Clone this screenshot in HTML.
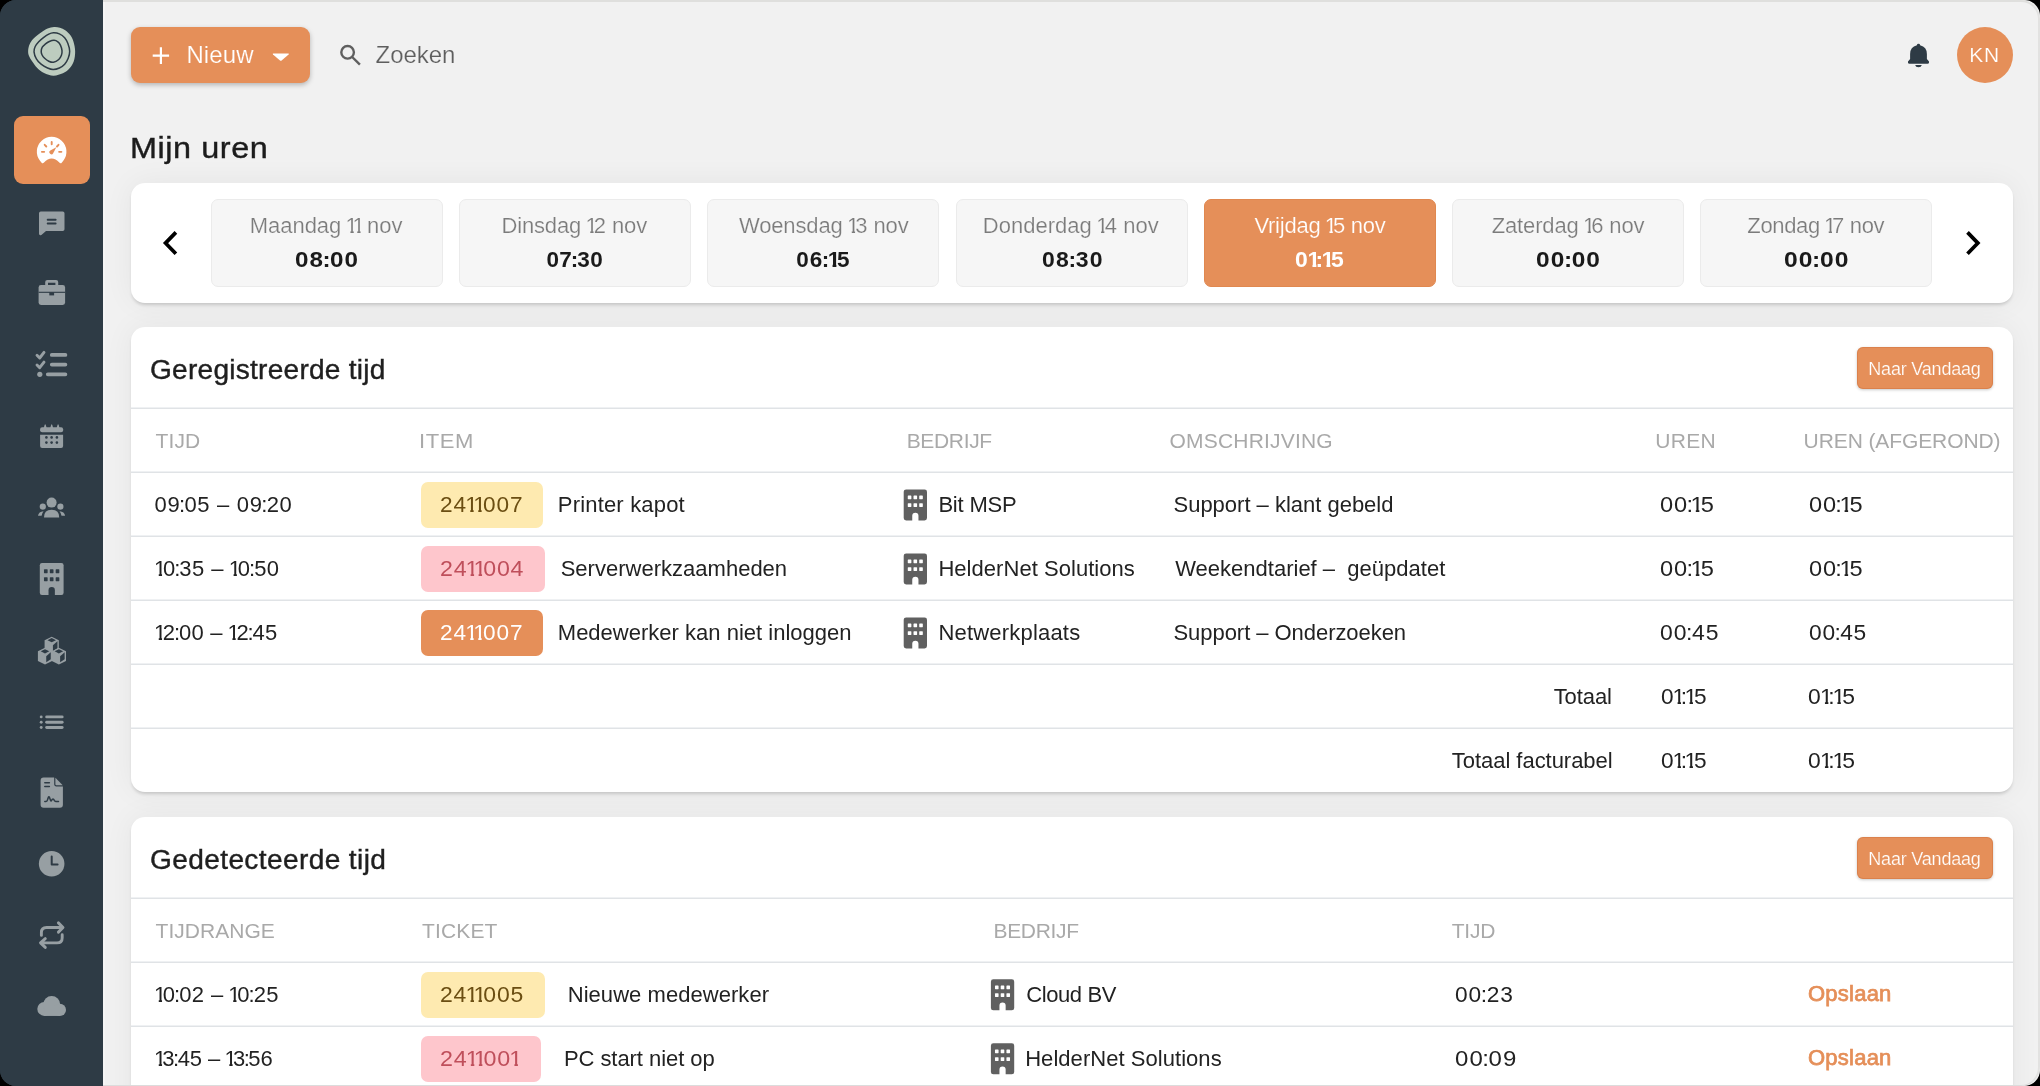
<!DOCTYPE html>
<html lang="nl">
<head>
<meta charset="utf-8">
<title>Mijn uren</title>
<style>
*{box-sizing:border-box;margin:0;padding:0}
html,body{width:2040px;height:1086px;background:#000}
body{font-family:"Liberation Sans",sans-serif;position:relative}
#win{position:absolute;left:0;top:0;width:2040px;height:1086px;border-radius:16px;overflow:hidden;background:linear-gradient(90deg,#2e3b45 0 103px,#f1f1f1 103px)}
#frame{position:absolute;left:103px;top:0;right:0;bottom:0;border-top:2px solid #dfdfdd;border-right:2px solid #e2e2e1;border-bottom:1px solid #dcdcdc;border-top-right-radius:19px;border-bottom-right-radius:19px;pointer-events:none}
#side{position:absolute;left:0;top:0;width:103px;height:1086px;background:#2e3b45}
#side .act{position:absolute;left:14px;top:116px;width:76px;height:68px;border-radius:9px;background:#e58f59}
.t{position:absolute;white-space:pre;font-family:"Liberation Sans",sans-serif;transform-origin:0 50%}
.t i{font-style:normal}
.o{display:inline-block;line-height:1em;margin:0 -3.7px 0 -1.7px;clip-path:polygon(0 0,100% 0,100% .7em,.37em .7em,.37em 100%,.22em 100%,.22em .7em,0 .7em)}
.b .o{margin:0 -4.2px 0 -1.2px;clip-path:polygon(0 0,100% 0,100% .66em,.385em .66em,.385em 100%,.215em 100%,.215em .66em,0 .66em)}
.k{margin:0 -1.4px 0 -1.4px}
.m{-webkit-text-stroke:0.4px currentColor}
.b{font-weight:700}
.sb{-webkit-text-stroke:0.75px currentColor}

.card{position:absolute;left:131px;width:1882px;background:#fff;border-radius:14px;box-shadow:0 2.5px 3.5px -1px rgba(0,0,0,.16),0 0 30px rgba(0,0,0,.055)}
.sep{position:absolute;left:0;right:0;height:2px;background:linear-gradient(#eff1f3 0 50%,#e0e3e6 50% 100%)}
.day{position:absolute;top:199px;width:232px;height:88px;border-radius:7px;background:#f6f6f6;border:1.5px solid #ebebeb}
.day.on{background:#e58f59;border-color:#e08850}
.btn{position:absolute;background:#e58f59;border-radius:6px;box-shadow:0 1px 3px rgba(0,0,0,.22),inset 0 0 0 1px rgba(195,100,45,.3)}
.badge{position:absolute;height:46px;border-radius:7px}
.by{background:#feeab0}.bp{background:#fec6cc}.bo{background:#e58f59}
svg{position:absolute;overflow:visible}
#txt{position:absolute;left:0;top:0;width:2040px;height:1086px;will-change:transform}
</style>
</head>
<body>
<div id="win">
<nav id="side"><div class="act"></div></nav>
<div style="position:absolute;left:103px;top:2px;width:2px;height:1084px;background:linear-gradient(90deg,rgba(255,255,255,.15),rgba(255,255,255,.4))"></div>
<header>
<div class="btn" style="left:131px;top:27px;width:179px;height:56px;border-radius:9px;box-shadow:0 2px 5px rgba(0,0,0,.25)"></div>
<div style="position:absolute;left:1956.6px;top:27.4px;width:56px;height:56px;border-radius:50%;background:#e58f59"></div>
</header>
<section class="card" style="top:183px;height:120px"></section>
<div class="day" style="left:211px"></div>
<div class="day" style="left:459px"></div>
<div class="day" style="left:707px"></div>
<div class="day" style="left:956px"></div>
<div class="day on" style="left:1204px"></div>
<div class="day" style="left:1452px"></div>
<div class="day" style="left:1700px"></div>
<section class="card" style="top:327px;height:465px">
<div class="sep" style="top:80px"></div><div class="sep" style="top:144px"></div><div class="sep" style="top:208px"></div><div class="sep" style="top:272px"></div><div class="sep" style="top:336px"></div><div class="sep" style="top:400px"></div>
</section>
<section class="card" style="top:817px;height:400px">
<div class="sep" style="top:80px"></div><div class="sep" style="top:144px"></div><div class="sep" style="top:208px"></div>
</section>
<div class="btn" style="left:1857px;top:347px;width:136px;height:42px"></div>
<div class="btn" style="left:1857px;top:837px;width:136px;height:42px"></div>
<div class="badge by" style="left:421px;top:482px;width:122px"></div>
<div class="badge bp" style="left:421px;top:546px;width:124px"></div>
<div class="badge bo" style="left:421px;top:610px;width:122px"></div>
<div class="badge by" style="left:421px;top:972px;width:124px"></div>
<div class="badge bp" style="left:421px;top:1036px;width:120px"></div>
<svg width="2040" height="1086" viewBox="0 0 2040 1086" style="left:0;top:0" fill="none">
<g id="logo"><path d="M54.05 26.95C56.12 26.81 58.08 27.13 59.95 27.66C61.81 28.19 63.53 28.91 65.25 30.14C66.97 31.36 68.88 33.08 70.26 35.03C71.63 36.97 72.68 39.10 73.50 41.80C74.31 44.50 75.10 47.99 75.15 51.23C75.20 54.47 74.76 58.35 73.79 61.25C72.83 64.15 71.19 66.60 69.37 68.62C67.56 70.63 65.54 72.15 62.89 73.33C60.24 74.51 56.61 75.74 53.46 75.69C50.32 75.64 46.74 74.31 44.04 73.03C41.33 71.76 39.22 69.94 37.26 68.03C35.29 66.11 33.62 63.56 32.25 61.54C30.87 59.53 29.70 57.66 29.01 55.95C28.32 54.23 28.10 53.00 28.12 51.23C28.15 49.46 28.55 47.16 29.19 45.34C29.82 43.52 30.81 41.85 31.96 40.33C33.10 38.81 34.51 37.56 36.08 36.21C37.65 34.85 39.47 33.47 41.38 32.20C43.30 30.92 45.46 29.42 47.57 28.54C49.68 27.67 51.99 27.10 54.05 26.95Z" fill="#bdccbf"/>
<path d="M53.46 32.85C55.23 32.80 57.49 33.04 59.36 33.85C61.22 34.65 63.24 36.06 64.66 37.68C66.08 39.30 67.07 41.31 67.90 43.57C68.74 45.83 69.62 48.78 69.67 51.23C69.72 53.69 69.03 56.14 68.20 58.30C67.36 60.46 66.13 62.58 64.66 64.20C63.19 65.82 61.27 67.14 59.36 68.03C57.44 68.91 55.13 69.50 53.17 69.50C51.20 69.50 49.58 68.91 47.57 68.03C45.56 67.14 42.96 65.72 41.09 64.20C39.22 62.67 37.55 60.95 36.37 58.89C35.20 56.83 34.21 53.88 34.02 51.82C33.82 49.76 34.41 48.19 35.20 46.52C35.98 44.85 37.36 43.28 38.73 41.80C40.11 40.33 41.78 38.96 43.45 37.68C45.12 36.40 47.08 34.95 48.75 34.14C50.42 33.34 51.70 32.90 53.46 32.85Z" stroke="#2e3b45" stroke-width="1.5"/>
<path d="M54.05 40.33C55.48 40.38 56.80 40.97 57.88 41.80C58.96 42.64 59.85 43.87 60.54 45.34C61.22 46.81 61.86 48.97 62.01 50.64C62.16 52.31 61.96 53.88 61.42 55.36C60.88 56.83 60.09 58.32 58.77 59.48C57.44 60.64 55.13 62.02 53.46 62.31C51.79 62.60 50.22 61.92 48.75 61.25C47.28 60.58 45.75 59.38 44.62 58.30C43.50 57.22 42.54 55.95 41.97 54.77C41.40 53.59 41.16 52.51 41.21 51.23C41.26 49.95 41.60 48.29 42.27 47.11C42.94 45.93 44.04 45.09 45.21 44.16C46.39 43.23 47.87 42.15 49.34 41.51C50.81 40.87 52.63 40.28 54.05 40.33Z" stroke="#2e3b45" stroke-width="1.5"/></g>
<g id="gauge"><path d="M39.82 160.51A14.8 14.8 0 1 1 63.46 160.51L61.9 162.4Q60.7 164 59.3 162.6Q55.6 158.5 51.64 158.5Q47.7 158.5 44 162.6Q42.6 164 41.4 162.4Z" fill="#fff"/>
<g stroke="#e58f59" stroke-width="1.9" stroke-linecap="round"><path d="M41.9 151.85H44.2M59.1 151.85H61.4M51.7 142V144.2M44.7 144.8L46.3 146.5M58.5 144.8L57 146.5"/></g>
<path d="M56.3 147.3L53.2 153.2A2 2 0 1 1 50.3 150.6Z" fill="#e58f59"/></g>
<g id="chat" fill="#979fa3"><path d="M40.8 211.5H62.7Q64.5 211.5 64.5 213.3V229.3Q64.5 231.1 62.7 231.1H46L41.4 235Q39 236 39 233.6V213.3Q39 211.5 40.8 211.5Z"/><path d="M47.7 219.7H55.6M47.7 223.4H55.6" stroke="#2e3b45" stroke-width="2" stroke-linecap="round"/></g>
<g id="brief" fill="#979fa3"><path d="M47.4 279.9H56Q58.2 279.9 58.2 282.1V285.6H55.4V282.8H48V285.6H45.2V282.1Q45.2 279.9 47.4 279.9Z"/><rect x="38.6" y="285" width="26.5" height="19.9" rx="2.4"/><path d="M38.6 292.3H65.1" stroke="#2e3b45" stroke-width="1.1"/><rect x="49.3" y="292.3" width="4.8" height="3.1" fill="#2e3b45"/></g>
<g id="tasks" stroke="#979fa3" stroke-linecap="round" stroke-linejoin="round" fill="none"><path d="M37 355.3L39.7 358L44 352.4M37 365L39.7 367.7L44 362.1" stroke-width="2.9"/><path d="M51.8 354.9H65.4M51.8 364.6H65.4M47.8 374.3H65.4" stroke-width="3.8"/><circle cx="39.8" cy="374.3" r="2.6" fill="#979fa3" stroke="none"/></g>
<g id="cal" fill="#979fa3"><rect x="40.1" y="427.2" width="23" height="5" rx="2"/><path d="M43.6 428.5L44.6 424.9Q45.2 423.7 45.8 424.9L46.8 428.5ZM50.1 428.5L51.1 424.9Q51.7 423.7 52.3 424.9L53.3 428.5ZM56.5 428.5L57.5 424.9Q58.1 423.7 58.7 424.9L59.7 428.5Z"/><path d="M40.1 434.7H63.1V445.9Q63.1 447.9 61.1 447.9H42.1Q40.1 447.9 40.1 445.9Z"/><g fill="#2e3b45"><circle cx="46.4" cy="437.4" r="1.3"/><circle cx="51.6" cy="437.4" r="1.3"/><circle cx="56.9" cy="437.4" r="1.3"/><circle cx="46.4" cy="442.6" r="1.3"/><circle cx="51.6" cy="442.6" r="1.3"/><circle cx="56.9" cy="442.6" r="1.3"/></g></g>
<g id="users" fill="#979fa3"><circle cx="51.6" cy="502.6" r="5"/><path d="M44 517.6Q43.7 510 51.6 509.8Q59.5 510 59.2 517.6Z"/><circle cx="42.8" cy="506.7" r="3.1"/><circle cx="60.4" cy="506.7" r="3.1"/><path d="M38 515.8Q38.6 511.6 43.6 511.2Q41.8 513.2 41.6 515.8ZM65.1 515.8Q64.5 511.6 59.5 511.2Q61.3 513.2 61.5 515.8Z"/></g>
<g transform="translate(39.8 563.1) scale(0.9917 0.9938)"><rect x="0" y="0" width="24" height="32" rx="2.22" fill="#979fa3"/><g fill="#2e3b45"><rect x="4.2" y="6.3" width="3.7" height="3.9" rx="0.5"/><rect x="10.1" y="6.3" width="3.7" height="3.9" rx="0.5"/><rect x="16" y="6.3" width="3.7" height="3.9" rx="0.5"/><rect x="4.2" y="14.3" width="3.7" height="3.9" rx="0.5"/><rect x="10.1" y="14.3" width="3.7" height="3.9" rx="0.5"/><rect x="16" y="14.3" width="3.7" height="3.9" rx="0.5"/><path d="M8.8 33V27.2Q8.8 24 12 24Q15.2 24 15.2 27.2V33Z"/></g></g>
<g id="cubes"><path d="M51.7 636.7L58.800000000000004 640.2V649.8000000000001L51.7 653.3000000000001L44.6 649.8000000000001V640.2Z" fill="#979fa3"/><path d="M51.7 638.12L55.97 640.2L51.7 642.28L47.44 640.2Z" fill="#2e3b45"/><path d="M52.92 645.25L57.45 641.21V648.18L52.92 651.21Z" fill="#2e3b45"/><path d="M45.0 647.8L52.1 651.3V660.9L45.0 664.4L37.9 660.9V651.3Z" fill="#979fa3"/><path d="M45.0 649.22L49.27 651.3L45.0 653.38L40.73 651.3Z" fill="#2e3b45"/><path d="M46.22 656.35L50.75 652.31V659.28L46.22 662.31Z" fill="#2e3b45"/><path d="M58.9 647.8L66.0 651.3V660.9L58.9 664.4L51.8 660.9V651.3Z" fill="#979fa3"/><path d="M58.9 649.22L63.16 651.3L58.9 653.38L54.63 651.3Z" fill="#2e3b45"/><path d="M60.12 656.35L64.65 652.31V659.28L60.12 662.31Z" fill="#2e3b45"/></g>
<g id="list" fill="#979fa3">
<circle cx="41.2" cy="716.9" r="1.45"/><rect x="45.2" y="715.4499999999999" width="18.4" height="2.9" rx="1.45"/>
<circle cx="41.2" cy="722.2" r="1.45"/><rect x="45.2" y="720.75" width="18.4" height="2.9" rx="1.45"/>
<circle cx="41.2" cy="727.5" r="1.45"/><rect x="45.2" y="726.05" width="18.4" height="2.9" rx="1.45"/>
</g>
<g id="file"><path d="M43.6 777.5H54.2V784.6Q54.2 786.4 56 786.4H62.9V804.8Q62.9 807.8 59.9 807.8H43.6Q40.6 807.8 40.6 804.8V780.5Q40.6 777.5 43.6 777.5Z" fill="#979fa3"/><path d="M55.4 777.7L62.7 785.2H56.4Q55.4 785.2 55.4 784.2Z" fill="#979fa3"/><path d="M44.8 782.7H49.4M44.8 786.4H49.4" stroke="#2e3b45" stroke-width="1.5" stroke-linecap="round"/><path d="M44.8 801.4H46Q47.2 801.4 47.6 799.6L48.3 797.4Q48.9 796 49.5 797.4L50.6 800.4Q51 801.4 51.6 800.4Q52.3 799 53 799Q53.7 799 54.3 800.4Q54.8 801.4 55.8 801.4H58.5" stroke="#2e3b45" stroke-width="1.5" stroke-linecap="round" stroke-linejoin="round" fill="none"/></g>
<g id="clock"><circle cx="51.65" cy="863.75" r="12.8" fill="#979fa3"/><path d="M51.7 856.5V864.6H57.6" stroke="#2e3b45" stroke-width="2" stroke-linecap="round" stroke-linejoin="round" fill="none"/></g>
<g id="repeat" stroke="#979fa3" stroke-width="2.9" stroke-linecap="round" stroke-linejoin="round" fill="none"><path d="M41.4 935.4V932.6Q41.4 927.5 46.5 927.5H62.2M58.4 922.9L63 927.5L58.4 932.1"/><path d="M62.2 934.8V937.7Q62.2 942.9 57 942.9H41.4M45.3 938.6L40.5 942.9L45.3 947.4"/></g>
<g id="cloud" fill="#979fa3"><circle cx="44.3" cy="1008.9" r="7"/><circle cx="51.7" cy="1004.6" r="8.5"/><circle cx="59.9" cy="1009.9" r="6.1"/><rect x="44.3" y="1006" width="15.6" height="9.95"/></g>
<path d="M152.7 55.6H169.1M160.9 47.3V63.9" stroke="#fff" stroke-width="2.2" stroke-linecap="butt"/>
<path d="M273.3 53.6H288.3Q289.3 53.7 288.6 54.5L281.6 60.4Q280.8 60.9 280 60.4L273 54.5Q272.3 53.7 273.3 53.6Z" fill="#fff"/>
<g stroke="#5f5f5f" stroke-width="2.4" fill="none"><circle cx="347.6" cy="52.3" r="6.3"/><path d="M352.2 57L359.9 64.7" stroke-linecap="butt"/></g>
<g fill="#2e3b45"><path d="M1916.9 45.2Q1917 43.8 1918.5 43.8Q1920 43.8 1920.1 45.2Q1926.9 46.9 1926.9 54V59L1929 61.4Q1929.6 63.7 1927.6 63.8H1909.4Q1907.4 63.7 1908 61.4L1910.1 59V54Q1910.1 46.9 1916.9 45.2Z"/><path d="M1915.2 64.9H1921.8Q1921.4 67.2 1918.5 67.2Q1915.6 67.2 1915.2 64.9Z"/></g>
<path d="M175.9 232.4L165.5 243.1L175.9 253.8" stroke="#000" stroke-width="3.7" fill="none" stroke-linecap="butt" stroke-linejoin="miter"/>
<path d="M1967.5 232.4L1977.9 243.1L1967.5 253.8" stroke="#000" stroke-width="3.7" fill="none" stroke-linecap="butt" stroke-linejoin="miter"/>
<g transform="translate(903.7 489.4) scale(0.9708 0.9688)"><rect x="0" y="0" width="24" height="32" rx="2.47" fill="#606060"/><g fill="#ffffff"><rect x="4.2" y="6.3" width="3.7" height="3.9" rx="0.5"/><rect x="10.1" y="6.3" width="3.7" height="3.9" rx="0.5"/><rect x="16" y="6.3" width="3.7" height="3.9" rx="0.5"/><rect x="4.2" y="14.3" width="3.7" height="3.9" rx="0.5"/><rect x="10.1" y="14.3" width="3.7" height="3.9" rx="0.5"/><rect x="16" y="14.3" width="3.7" height="3.9" rx="0.5"/><path d="M8.8 33V27.2Q8.8 24 12 24Q15.2 24 15.2 27.2V33Z"/></g></g>
<g transform="translate(903.7 553.4) scale(0.9708 0.9688)"><rect x="0" y="0" width="24" height="32" rx="2.47" fill="#606060"/><g fill="#ffffff"><rect x="4.2" y="6.3" width="3.7" height="3.9" rx="0.5"/><rect x="10.1" y="6.3" width="3.7" height="3.9" rx="0.5"/><rect x="16" y="6.3" width="3.7" height="3.9" rx="0.5"/><rect x="4.2" y="14.3" width="3.7" height="3.9" rx="0.5"/><rect x="10.1" y="14.3" width="3.7" height="3.9" rx="0.5"/><rect x="16" y="14.3" width="3.7" height="3.9" rx="0.5"/><path d="M8.8 33V27.2Q8.8 24 12 24Q15.2 24 15.2 27.2V33Z"/></g></g>
<g transform="translate(903.7 617.4) scale(0.9708 0.9688)"><rect x="0" y="0" width="24" height="32" rx="2.47" fill="#606060"/><g fill="#ffffff"><rect x="4.2" y="6.3" width="3.7" height="3.9" rx="0.5"/><rect x="10.1" y="6.3" width="3.7" height="3.9" rx="0.5"/><rect x="16" y="6.3" width="3.7" height="3.9" rx="0.5"/><rect x="4.2" y="14.3" width="3.7" height="3.9" rx="0.5"/><rect x="10.1" y="14.3" width="3.7" height="3.9" rx="0.5"/><rect x="16" y="14.3" width="3.7" height="3.9" rx="0.5"/><path d="M8.8 33V27.2Q8.8 24 12 24Q15.2 24 15.2 27.2V33Z"/></g></g>
<g transform="translate(990.9 979.3) scale(0.9708 0.9688)"><rect x="0" y="0" width="24" height="32" rx="2.47" fill="#606060"/><g fill="#ffffff"><rect x="4.2" y="6.3" width="3.7" height="3.9" rx="0.5"/><rect x="10.1" y="6.3" width="3.7" height="3.9" rx="0.5"/><rect x="16" y="6.3" width="3.7" height="3.9" rx="0.5"/><rect x="4.2" y="14.3" width="3.7" height="3.9" rx="0.5"/><rect x="10.1" y="14.3" width="3.7" height="3.9" rx="0.5"/><rect x="16" y="14.3" width="3.7" height="3.9" rx="0.5"/><path d="M8.8 33V27.2Q8.8 24 12 24Q15.2 24 15.2 27.2V33Z"/></g></g>
<g transform="translate(990.9 1043.3) scale(0.9708 0.9688)"><rect x="0" y="0" width="24" height="32" rx="2.47" fill="#606060"/><g fill="#ffffff"><rect x="4.2" y="6.3" width="3.7" height="3.9" rx="0.5"/><rect x="10.1" y="6.3" width="3.7" height="3.9" rx="0.5"/><rect x="16" y="6.3" width="3.7" height="3.9" rx="0.5"/><rect x="4.2" y="14.3" width="3.7" height="3.9" rx="0.5"/><rect x="10.1" y="14.3" width="3.7" height="3.9" rx="0.5"/><rect x="16" y="14.3" width="3.7" height="3.9" rx="0.5"/><path d="M8.8 33V27.2Q8.8 24 12 24Q15.2 24 15.2 27.2V33Z"/></g></g>
</svg>
<div id="txt">
<div class="t" style="left:186.40px;top:39.10px;font-size:24px;line-height:32px;-webkit-text-stroke:0.2px #e58f59;color:#ffffff;letter-spacing:0.100px">Nieuw</div>
<div class="t" style="left:375.60px;top:38.90px;font-size:24px;line-height:32px;-webkit-text-stroke:0.2px #f1f1f1;color:#5e5e5e;letter-spacing:-0.080px">Zoeken</div>
<div class="t" style="left:1969.30px;top:40.40px;font-size:21px;line-height:29px;-webkit-text-stroke:0.2px #e58f59;color:#ffffff;letter-spacing:0.800px">KN</div>
<div class="t m" style="left:129.70px;top:128.80px;font-size:30px;line-height:38px;transform:scaleX(1.08);color:#1c1c1c;letter-spacing:0.532px">Mijn uren</div>
<div class="t" style="left:249.80px;top:211.10px;font-size:22px;line-height:30px;-webkit-text-stroke:0.2px #f6f6f6;color:#7b7b7b;letter-spacing:-0.046px">Maandag <i class="o">1</i><i class="o">1</i> nov</div>
<div class="t b" style="left:295.20px;top:245.20px;font-size:22.5px;line-height:30.5px;transform:scaleX(1.077);color:#1a1a1a;letter-spacing:0.954px">08<i class="k">:</i>00</div>
<div class="t" style="left:501.40px;top:211.10px;font-size:22px;line-height:30px;-webkit-text-stroke:0.2px #f6f6f6;color:#7b7b7b;letter-spacing:-0.138px">Dinsdag <i class="o">1</i>2 nov</div>
<div class="t b" style="left:546.40px;top:245.20px;font-size:22.5px;line-height:30.5px;color:#1a1a1a;letter-spacing:0.400px">07<i class="k">:</i>30</div>
<div class="t" style="left:738.90px;top:211.10px;font-size:22px;line-height:30px;-webkit-text-stroke:0.2px #f6f6f6;color:#7b7b7b;letter-spacing:-0.129px">Woensdag <i class="o">1</i>3 nov</div>
<div class="t b" style="left:796.30px;top:245.20px;font-size:22.5px;line-height:30.5px;color:#1a1a1a;letter-spacing:0.950px">06<i class="k">:</i><i class="o">1</i>5</div>
<div class="t" style="left:982.80px;top:211.10px;font-size:22px;line-height:30px;-webkit-text-stroke:0.2px #f6f6f6;color:#7b7b7b;letter-spacing:0.013px">Donderdag <i class="o">1</i>4 nov</div>
<div class="t b" style="left:1041.50px;top:245.20px;font-size:22.5px;line-height:30.5px;transform:scaleX(1.021);color:#1a1a1a;letter-spacing:1.098px">08<i class="k">:</i>30</div>
<div class="t" style="left:1254.40px;top:211.10px;font-size:22px;line-height:30px;-webkit-text-stroke:0.2px #e58f59;color:#ffffff;letter-spacing:-0.231px">Vrijdag <i class="o">1</i>5 nov</div>
<div class="t b" style="left:1295.40px;top:245.20px;font-size:22.5px;line-height:30.5px;transform:scaleX(1.02);color:#ffffff;letter-spacing:0.951px">0<i class="o">1</i><i class="k">:</i><i class="o">1</i>5</div>
<div class="t" style="left:1491.70px;top:211.10px;font-size:22px;line-height:30px;-webkit-text-stroke:0.2px #f6f6f6;color:#7b7b7b;letter-spacing:-0.143px">Zaterdag <i class="o">1</i>6 nov</div>
<div class="t b" style="left:1535.90px;top:245.20px;font-size:22.5px;line-height:30.5px;transform:scaleX(1.088);color:#1a1a1a;letter-spacing:1.000px">00<i class="k">:</i>00</div>
<div class="t" style="left:1747.30px;top:211.10px;font-size:22px;line-height:30px;-webkit-text-stroke:0.2px #f6f6f6;color:#7b7b7b;letter-spacing:-0.350px">Zondag <i class="o">1</i>7 nov</div>
<div class="t b" style="left:1784.00px;top:245.20px;font-size:22.5px;line-height:30.5px;transform:scaleX(1.096);color:#1a1a1a;letter-spacing:1.000px">00<i class="k">:</i>00</div>
<div class="t m" style="left:150.40px;top:353.00px;font-size:27px;line-height:35px;transform:scaleX(1.04);color:#1f1f1f;letter-spacing:0.235px">Geregistreerde tijd</div>
<div class="t" style="left:1868.30px;top:356.40px;font-size:18px;line-height:26px;-webkit-text-stroke:0.2px #e58f59;color:#ffffff;letter-spacing:-0.200px">Naar Vandaag</div>
<div class="t" style="left:155.60px;top:426.00px;font-size:21px;line-height:29px;color:#a9a9a9;letter-spacing:0.067px">TIJD</div>
<div class="t" style="left:419.30px;top:426.00px;font-size:21px;line-height:29px;transform:scaleX(1.05);color:#a9a9a9;letter-spacing:0.571px">ITEM</div>
<div class="t" style="left:906.70px;top:426.00px;font-size:21px;line-height:29px;color:#a9a9a9;letter-spacing:-0.333px">BEDRIJF</div>
<div class="t" style="left:1169.60px;top:426.00px;font-size:21px;line-height:29px;color:#a9a9a9;letter-spacing:0.182px">OMSCHRIJVING</div>
<div class="t" style="left:1655.30px;top:426.00px;font-size:21px;line-height:29px;color:#a9a9a9;letter-spacing:0.267px">UREN</div>
<div class="t" style="left:1803.60px;top:426.00px;font-size:21px;line-height:29px;color:#a9a9a9;letter-spacing:-0.100px">UREN (AFGEROND)</div>
<div class="t" style="left:154.60px;top:490.00px;font-size:22px;line-height:30px;color:#222222;letter-spacing:0.683px">09<i class="k">:</i>05 – 09<i class="k">:</i>20</div>
<div class="t" style="left:440.20px;top:490.00px;font-size:22px;line-height:30px;transform:scaleX(1.029);color:#6b4e12;letter-spacing:0.897px">24<i class="o">1</i><i class="o">1</i>007</div>
<div class="t" style="left:557.80px;top:490.00px;font-size:22px;line-height:30px;color:#222222;letter-spacing:0.183px">Printer kapot</div>
<div class="t" style="left:938.40px;top:490.00px;font-size:22px;line-height:30px;color:#222222;letter-spacing:-0.200px">Bit MSP</div>
<div class="t" style="left:1173.50px;top:490.00px;font-size:22px;line-height:30px;color:#222222;letter-spacing:-0.010px">Support – klant gebeld</div>
<div class="t" style="left:1660.40px;top:490.00px;font-size:22px;line-height:30px;transform:scaleX(1.073);color:#222222;letter-spacing:0.800px">00<i class="k">:</i><i class="o">1</i>5</div>
<div class="t" style="left:1808.70px;top:490.00px;font-size:22px;line-height:30px;transform:scaleX(1.071);color:#222222;letter-spacing:0.753px">00<i class="k">:</i><i class="o">1</i>5</div>
<div class="t" style="left:155.60px;top:554.00px;font-size:22px;line-height:30px;color:#222222;letter-spacing:0.433px"><i class="o">1</i>0<i class="k">:</i>35 – <i class="o">1</i>0<i class="k">:</i>50</div>
<div class="t" style="left:440.20px;top:554.00px;font-size:22px;line-height:30px;transform:scaleX(1.054);color:#bf4f5b;letter-spacing:0.705px">24<i class="o">1</i><i class="o">1</i>004</div>
<div class="t" style="left:560.70px;top:554.00px;font-size:22px;line-height:30px;color:#222222;letter-spacing:0.011px">Serverwerkzaamheden</div>
<div class="t" style="left:938.40px;top:554.00px;font-size:22px;line-height:30px;color:#222222;letter-spacing:0.044px">HelderNet Solutions</div>
<div class="t" style="left:1175.20px;top:554.00px;font-size:22px;line-height:30px;color:#222222;letter-spacing:0.008px">Weekendtarief – &nbsp;geüpdatet</div>
<div class="t" style="left:1660.40px;top:554.00px;font-size:22px;line-height:30px;transform:scaleX(1.073);color:#222222;letter-spacing:0.800px">00<i class="k">:</i><i class="o">1</i>5</div>
<div class="t" style="left:1808.70px;top:554.00px;font-size:22px;line-height:30px;transform:scaleX(1.071);color:#222222;letter-spacing:0.753px">00<i class="k">:</i><i class="o">1</i>5</div>
<div class="t" style="left:155.60px;top:618.00px;font-size:22px;line-height:30px;color:#222222;letter-spacing:0.283px"><i class="o">1</i>2<i class="k">:</i>00 – <i class="o">1</i>2<i class="k">:</i>45</div>
<div class="t" style="left:440.20px;top:618.00px;font-size:22px;line-height:30px;transform:scaleX(1.029);color:#ffffff;letter-spacing:0.897px">24<i class="o">1</i><i class="o">1</i>007</div>
<div class="t" style="left:557.80px;top:618.00px;font-size:22px;line-height:30px;color:#222222;letter-spacing:0.007px">Medewerker kan niet inloggen</div>
<div class="t" style="left:938.40px;top:618.00px;font-size:22px;line-height:30px;color:#222222;letter-spacing:0.200px">Netwerkplaats</div>
<div class="t" style="left:1173.50px;top:618.00px;font-size:22px;line-height:30px;color:#222222;letter-spacing:-0.050px">Support – Onderzoeken</div>
<div class="t" style="left:1660.40px;top:618.00px;font-size:22px;line-height:30px;transform:scaleX(1.043);color:#222222;letter-spacing:0.944px">00<i class="k">:</i>45</div>
<div class="t" style="left:1808.70px;top:618.00px;font-size:22px;line-height:30px;transform:scaleX(1.035);color:#222222;letter-spacing:0.752px">00<i class="k">:</i>45</div>
<div class="t" style="left:1553.70px;top:682.00px;font-size:22px;line-height:30px;color:#222222;letter-spacing:-0.080px">Totaal</div>
<div class="t" style="left:1660.60px;top:682.00px;font-size:22px;line-height:30px;transform:scaleX(1.03);color:#222222;letter-spacing:0.703px">0<i class="o">1</i><i class="k">:</i><i class="o">1</i>5</div>
<div class="t" style="left:1808.40px;top:682.00px;font-size:22px;line-height:30px;transform:scaleX(1.04);color:#222222;letter-spacing:0.896px">0<i class="o">1</i><i class="k">:</i><i class="o">1</i>5</div>
<div class="t" style="left:1451.80px;top:746.00px;font-size:22px;line-height:30px;color:#222222;letter-spacing:-0.037px">Totaal facturabel</div>
<div class="t" style="left:1660.60px;top:746.00px;font-size:22px;line-height:30px;transform:scaleX(1.03);color:#222222;letter-spacing:0.703px">0<i class="o">1</i><i class="k">:</i><i class="o">1</i>5</div>
<div class="t" style="left:1808.40px;top:746.00px;font-size:22px;line-height:30px;transform:scaleX(1.04);color:#222222;letter-spacing:0.896px">0<i class="o">1</i><i class="k">:</i><i class="o">1</i>5</div>
<div class="t m" style="left:150.40px;top:843.00px;font-size:27px;line-height:35px;transform:scaleX(1.04);color:#1f1f1f;letter-spacing:0.362px">Gedetecteerde tijd</div>
<div class="t" style="left:1868.30px;top:846.40px;font-size:18px;line-height:26px;-webkit-text-stroke:0.2px #e58f59;color:#ffffff;letter-spacing:-0.200px">Naar Vandaag</div>
<div class="t" style="left:155.60px;top:916.00px;font-size:21px;line-height:29px;color:#a9a9a9;letter-spacing:0.025px">TIJDRANGE</div>
<div class="t" style="left:422.10px;top:916.00px;font-size:21px;line-height:29px;color:#a9a9a9;letter-spacing:0.120px">TICKET</div>
<div class="t" style="left:993.50px;top:916.00px;font-size:21px;line-height:29px;color:#a9a9a9;letter-spacing:-0.333px">BEDRIJF</div>
<div class="t" style="left:1451.70px;top:916.00px;font-size:21px;line-height:29px;color:#a9a9a9;letter-spacing:-0.200px">TIJD</div>
<div class="t" style="left:155.60px;top:980.00px;font-size:22px;line-height:30px;color:#222222;letter-spacing:0.383px"><i class="o">1</i>0<i class="k">:</i>02 – <i class="o">1</i>0<i class="k">:</i>25</div>
<div class="t" style="left:440.20px;top:980.00px;font-size:22px;line-height:30px;transform:scaleX(1.045);color:#6b4e12;letter-spacing:0.800px">24<i class="o">1</i><i class="o">1</i>005</div>
<div class="t" style="left:567.70px;top:980.00px;font-size:22px;line-height:30px;color:#222222;letter-spacing:0.050px">Nieuwe medewerker</div>
<div class="t" style="left:1026.20px;top:980.00px;font-size:22px;line-height:30px;color:#222222;letter-spacing:-0.400px">Cloud BV</div>
<div class="t" style="left:1454.90px;top:980.00px;font-size:22px;line-height:30px;transform:scaleX(1.033);color:#222222;letter-spacing:0.945px">00<i class="k">:</i>23</div>
<div class="t sb" style="left:1808.00px;top:979.00px;font-size:22px;line-height:30px;color:#e58f59;letter-spacing:0.233px">Opslaan</div>
<div class="t" style="left:155.60px;top:1044.00px;font-size:22px;line-height:30px;color:#222222;letter-spacing:-0.100px"><i class="o">1</i>3<i class="k">:</i>45 – <i class="o">1</i>3<i class="k">:</i>56</div>
<div class="t" style="left:440.20px;top:1044.00px;font-size:22px;line-height:30px;transform:scaleX(1.059);color:#bf4f5b;letter-spacing:0.737px">24<i class="o">1</i><i class="o">1</i>00<i class="o">1</i></div>
<div class="t" style="left:563.90px;top:1044.00px;font-size:22px;line-height:30px;color:#222222;letter-spacing:-0.053px">PC start niet op</div>
<div class="t" style="left:1025.20px;top:1044.00px;font-size:22px;line-height:30px;color:#222222;letter-spacing:0.044px">HelderNet Solutions</div>
<div class="t" style="left:1454.90px;top:1044.00px;font-size:22px;line-height:30px;transform:scaleX(1.091);color:#222222;letter-spacing:0.983px">00<i class="k">:</i>09</div>
<div class="t sb" style="left:1808.00px;top:1043.00px;font-size:22px;line-height:30px;color:#e58f59;letter-spacing:0.233px">Opslaan</div>
</div>
<div id="frame"></div>
</div>
</body>
</html>
